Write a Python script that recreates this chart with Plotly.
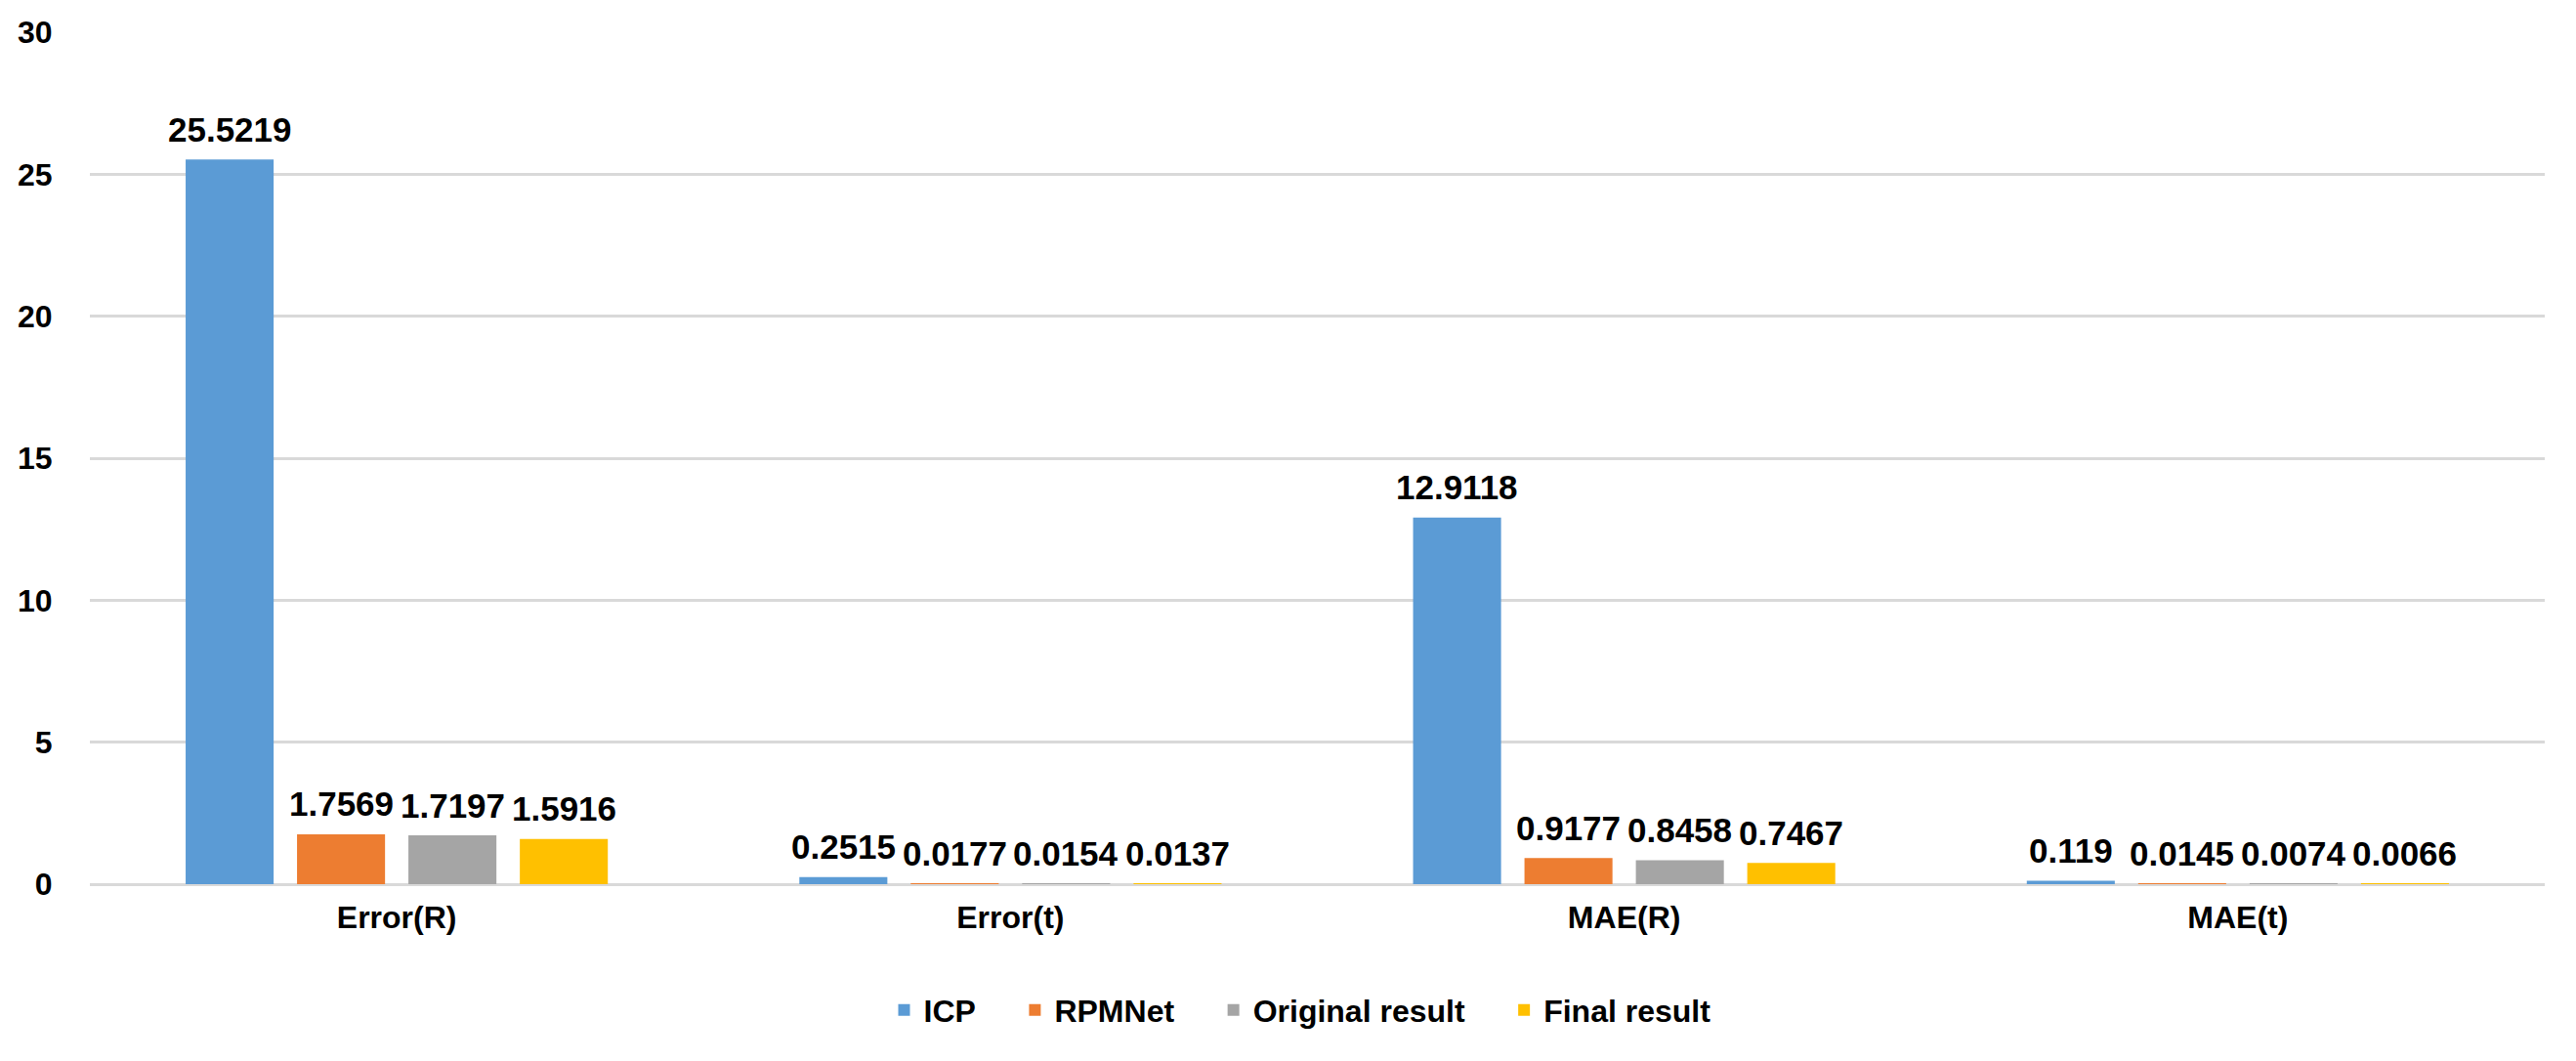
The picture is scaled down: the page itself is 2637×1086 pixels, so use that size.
import plotly.graph_objects as go

categories = ["Error(R)", "Error(t)", "MAE(R)", "MAE(t)"]
series_names = ["ICP", "RPMNet", "Original result", "Final result"]
icp = [25.5219, 0.2515, 12.9118, 0.119]
rpmnet = [1.7569, 0.0177, 0.9177, 0.0145]
original = [1.7197, 0.0154, 0.8458, 0.0074]
final = [1.5916, 0.0137, 0.7467, 0.0066]
label_icp = ["25.5219", "0.2515", "12.9118", "0.119"]
label_rpm = ["1.7569", "0.0177", "0.9177", "0.0145"]
label_orig = ["1.7197", "0.0154", "0.8458", "0.0074"]
label_final = ["1.5916", "0.0137", "0.7467", "0.0066"]
colors = ["#5B9BD5", "#ED7D31", "#A5A5A5", "#FFC000"]
y_ticks = [0, 5, 10, 15, 20, 25, 30]

FONT = "Liberation Sans, Arial, sans-serif"
PAD = "\u00a0" * 4
BARGAP = 0.274
BARGROUPGAP = 0.21

all_vals = [icp, rpmnet, original, final]
all_labels = [label_icp, label_rpm, label_orig, label_final]
n_series = len(series_names)

fig = go.Figure()
for name, vals, col in zip(series_names, all_vals, colors):
    fig.add_trace(go.Bar(
        name=name + PAD, x=categories, y=vals, marker=dict(color=col, line=dict(width=0)),
    ))

# value labels placed above each bar, positioned in category units
slot = (1 - BARGAP) / n_series
for j, (vals, labels) in enumerate(zip(all_vals, all_labels)):
    for i, (v, t) in enumerate(zip(vals, labels)):
        fig.add_annotation(
            x=i + (j - (n_series - 1) / 2) * slot, y=v, xref="x", yref="y",
            text=t, showarrow=False, yanchor="middle", yshift=31,
            font=dict(family=FONT, size=35, color="black", weight="bold"),
        )

fig.update_layout(
    width=2637, height=1086,
    paper_bgcolor="white", plot_bgcolor="white",
    margin=dict(l=92, r=32, t=33, b=181),
    barmode="group", bargap=BARGAP, bargroupgap=BARGROUPGAP,
    font=dict(family=FONT, size=32, color="black", weight="bold"),
    showlegend=True,
    legend=dict(orientation="h", x=0.5, xanchor="center", y=-0.148, yanchor="middle",
                font=dict(family=FONT, size=32, color="black", weight="bold"),
                itemwidth=30, traceorder="normal"),
    yaxis=dict(range=[0, 30], tickvals=y_ticks, showgrid=True, gridcolor="#D9D9D9", gridwidth=3,
               zeroline=True, zerolinecolor="#D9D9D9", zerolinewidth=3, showline=False,
               ticks="outside", ticklen=31, tickcolor="rgba(0,0,0,0)",
               tickfont=dict(family=FONT, size=32, color="black", weight="bold")),
    xaxis=dict(showgrid=False, showline=False, ticks="", ticklabelstandoff=12,
               tickfont=dict(family=FONT, size=32, color="black", weight="bold")),
)

fig.write_html("out.html", config={"displayModeBar": False},
               post_script="document.body.style.margin='0';document.body.style.overflow='hidden';")
